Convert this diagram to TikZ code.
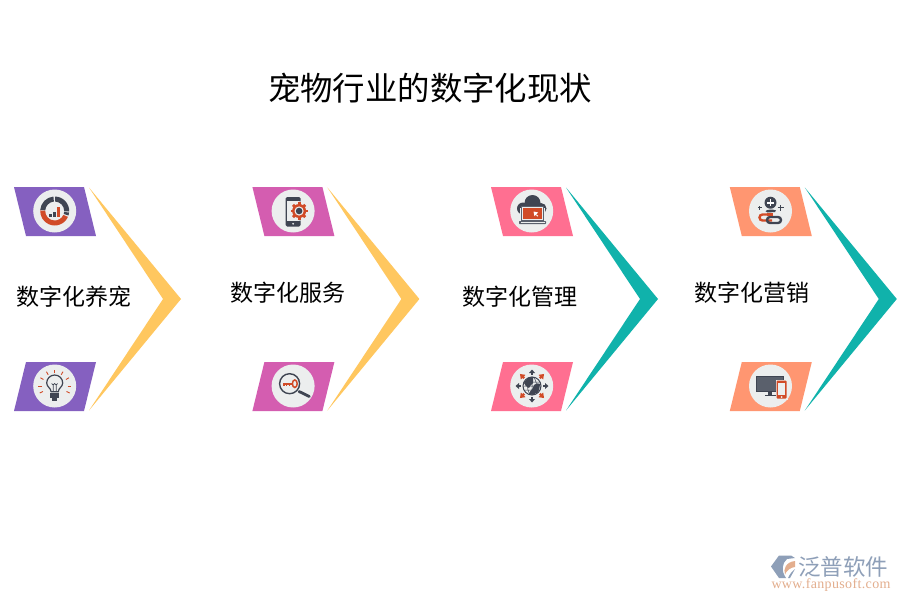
\documentclass[tikz,border=0pt]{standalone}
\usepackage{fontspec}
\setmainfont{Liberation Serif}
\newfontfamily\cjk{Noto Sans CJK SC}
\definecolor{cpurple}{HTML}{8560C0}
\definecolor{cmag}{HTML}{D45DB0}
\definecolor{cpink}{HTML}{FF6F91}
\definecolor{csalmon}{HTML}{FF9671}
\definecolor{cyel}{HTML}{FFC75F}
\definecolor{cteal}{HTML}{10B2AB}
\definecolor{ccirc}{HTML}{ECEEEE}
\definecolor{cdark}{HTML}{3F4552}
\definecolor{cscreen}{HTML}{5A606C}
\definecolor{cred}{HTML}{D14B27}
\definecolor{clogob}{HTML}{8E9FB8}
\definecolor{clogoo}{HTML}{E3AE8E}
\tikzset{
  lab/.style={font=\cjk\fontsize{23}{23}\selectfont,text=black,inner sep=0pt,anchor=center},
  ttl/.style={font=\cjk\fontsize{32.4}{33}\selectfont,text=black,inner sep=0pt,anchor=center},
  dk/.style={fill=cdark},
  rd/.style={fill=cred},
  dkl/.style={draw=cdark},
  rdl/.style={draw=cred},
  disc/.style={fill=ccirc}
}
% #1 x offset, #2 plate colour, #3 chevron colour
\newcommand{\grp}[3]{%
  \begin{scope}[shift={(#1,0)}]
    \fill[#2] (14,187) -- (84,187) -- (96,236) -- (26,236) -- cycle;
    \fill[#2] (26,362) -- (96,362) -- (84,411) -- (14,411) -- cycle;
    \fill[#3] (89,187.5) -- (181,299) -- (89,410.5) -- (163,299) -- cycle;
    \fill[disc] (54.7,211) circle (21.5);
    \fill[disc] (54.7,386) circle (21.5);
  \end{scope}}
\newcommand{\ring}[5]{\fill[#1] (#2:#4) arc (#2:#3:#4) -- (#3:#5) arc (#3:#2:#5) -- cycle;}
\begin{document}
\begin{tikzpicture}[x=1pt,y=-1pt]
\useasboundingbox (0,0) rectangle (900,600);
\fill[white] (0,0) rectangle (900,600);
\node[ttl] (title) at (430,88) {宠物行业的数字化现状};
\grp{0}{cpurple}{cyel}
\grp{238.4}{cmag}{cyel}
\grp{477}{cpink}{cteal}
\grp{715.8}{csalmon}{cteal}
\node[lab] (l1) at (74,297) {数字化养宠};
\node[lab] (l2) at (287.5,293) {数字化服务};
\node[lab] (l3) at (519.5,297) {数字化管理};
\node[lab] (l4) at (752,293) {数字化营销};
% icon 1: donut chart
\begin{scope}[shift={(54.7,211)},yscale=-1]
 \ring{dk}{176}{95}{14.5}{9.5}
 \ring{dk}{88}{-2}{14.5}{9.5}
 \ring{dk}{-6}{-18}{14.5}{9.5}
 \ring{rd}{-24}{-182}{14.5}{9.5}
 \fill[dk] (-5.5,-5.5) rectangle (-3.2,-3);
 \fill[dk] (-1.6,-5.5) rectangle (.8,-.5);
 \fill[rd] (2.6,-5.5) rectangle (5,4);
\end{scope}
% icon 2: bulb
\begin{scope}[shift={(54.7,386)},yscale=-1]
 \foreach \a in {90,120,60,150,30,180,0,205,-25}{
   \draw[rdl,line width=.9pt] (\a:13) -- (\a:16.5);}
 \draw[dkl,line width=1.2pt] (-3.6,-5.8) .. controls (-3.6,-2) and (-8,-1) .. (-8,3) arc (180:0:8) .. controls (8,-1) and (3.6,-2) .. (3.6,-5.8) -- cycle;
 \draw[dkl,line width=.7pt] (-1.5,-5) -- (-1.5,2) (1.5,-5) -- (1.5,2) (-3,2.5) -- (-1.5,1) -- (0,2.5) -- (1.5,1) -- (3,2.5);
 \fill[dk] (-4.5,-11.5) rectangle (4.5,-7);
 \fill[dk] (-2.6,-14.5) rectangle (2.6,-12);
\end{scope}
% icon 3: phone with gear
\begin{scope}[shift={(293.1,211)},yscale=-1]
 \fill[dk,rounded corners=1.5pt] (-7.5,-15.5) rectangle (7.5,14);
 \fill[ccirc] (-6,-10) rectangle (6,10.5);
 \fill[ccirc] (0,-12.8) circle (1);
 \begin{scope}[shift={(6,0)}]
  \fill[ccirc] (0,0) circle (9.8);
  \foreach \a in {0,45,...,315}{\fill[rd,rotate=\a] (6,-1.4) rectangle (8.6,1.4);}
  \fill[rd] (0,0) circle (7);
  \fill[ccirc] (0,0) circle (4.6);
  \fill[dk] (0,0) circle (3.3);
 \end{scope}
\end{scope}
% icon 4: magnifier with key
\begin{scope}[shift={(293.1,386)},yscale=-1]
 \draw[cdark,line width=2.8pt,line cap=round] (6,-5.5) -- (16.2,-10.5);
 \draw[dkl,line width=1.4pt] (-3.5,2.3) circle (10);
 \draw[rdl,line width=1.5pt] (1.7,2.3) ellipse (2.4 and 3.8);
 \fill[rd] (-10,1.5) rectangle (-.5,3.3);
 \fill[rd] (-10,0) rectangle (-8.5,2);
 \fill[rd] (-7.2,0) rectangle (-5.7,2);
 \fill[rd] (-4.4,0) rectangle (-2.9,2);
\end{scope}
% icon 5: cloud with laptop
\begin{scope}[shift={(532,211)},yscale=-1]
 \fill[dk] (0.5,8) circle (8);
 \fill[dk] (-9,2.5) circle (6);
 \fill[dk] (9,2.5) circle (5.5);
 \fill[dk] (-9,-3.5) rectangle (10,6);
 \fill[dk] (-7,2) rectangle (8,9);
 \fill[ccirc] (-12,-9) rectangle (13,-6);
 \fill[ccirc] (-12,-9) rectangle (-10.5,3);
 \fill[ccirc] (11.5,-9) rectangle (13,3);
 \fill[cscreen] (-11.2,-10) rectangle (12.2,4.8);
 \fill[ccirc] (-10.3,-9) rectangle (11.3,4);
 \fill[rd] (-9.2,-8.2) rectangle (10.2,3.2);
 \fill[cscreen,rounded corners=.6pt] (-13,-13) rectangle (14,-10);
 \fill[ccirc] (-11.5,-12) rectangle (12.5,-11.2);
 \fill[white] (1.5,-.5) -- (6.2,-1.5) -- (2.5,-5.2) -- cycle;
 \fill[white] (3.3,-2.8) -- (6.3,-4.8) -- (5.2,-5.6) -- cycle;
\end{scope}
% icon 6: globe with arrows
\begin{scope}[shift={(532,386)},yscale=-1]
 \fill[ccirc] (0,0) circle (9);
 \draw[cdark,line width=.5pt] (0,0) ellipse (4.5 and 9) (0,-9) -- (0,9) (-9,0) -- (9,0) (-8,4) -- (8,4) (-8,-4) -- (8,-4);
 \fill[dk] (-8,3) .. controls (-6,8) and (-2,9) .. (1,8.5) .. controls (2,6) and (0,5) .. (1,3) .. controls (-2,2) and (-1,-1) .. (-3,-2) .. controls (-6,-1) and (-7,1) .. (-8,3) -- cycle;
 \fill[dk] (2,1) .. controls (5,3) and (7,3) .. (8,2) .. controls (7,-1) and (8,-4) .. (6,-6.5) .. controls (3,-8) and (0,-9) .. (-3,-8.5) .. controls (-3,-5) and (1,-4) .. (2,1) -- cycle;
 \draw[cdark,line width=1pt] (0,0) circle (9);
 \foreach \a in {0,90,180,270}{
  \begin{scope}[rotate=\a]
   \fill[dk] (11,-1) rectangle (13,1);
   \fill[dk] (13,-3) -- (16.5,0) -- (13,3) -- cycle;
  \end{scope}}
 \foreach \a in {45,135,225,315}{
  \begin{scope}[rotate=\a]
   \fill[rd] (11,-1.2) rectangle (13,1.2);
   \fill[rd] (12.5,-3.3) -- (17,0) -- (12.5,3.3) -- cycle;
  \end{scope}}
\end{scope}
% icon 7: person-plus and chain
\begin{scope}[shift={(770.5,211)},yscale=-1]
 \fill[dk] (0,8.3) circle (6);
 \fill[white] (-3.4,7.4) rectangle (3.4,9.2);
 \fill[white] (-.9,4.9) rectangle (.9,11.7);
 \fill[dk] (-5,-.2) .. controls (-4,1.8) and (3,1.8) .. (5.5,0.6) -- (4.5,-1) -- (-3,-1.5) -- cycle;
 \draw[cdark,line width=.9pt] (-12.5,3.3) -- (-9,3.3) (-10.75,1.5) -- (-10.75,5.1);
 \draw[cdark,line width=1.5pt] (7,3.3) -- (13,3.3) (10,.3) -- (10,6.3);
 \draw[cred,line width=2.4pt,rounded corners=3pt] (1.5,-3.5) -- (-11,-3.5) -- (-11,-9.5) -- (1.5,-9.5);
 \draw[cdark,line width=2.4pt,rounded corners=3pt] (-3.5,-6) -- (10.5,-6) -- (10.5,-12) -- (-3.5,-12) -- cycle;
 \draw[cred,line width=2.4pt] (-3.5,-3.5) -- (2,-3.5);
\end{scope}
% icon 8: monitor and phone
\begin{scope}[shift={(770.5,386)},yscale=-1]
 \fill[cdark] (-14.5,-5.5) rectangle (13,10);
 \fill[cscreen] (-13.5,-4.5) rectangle (12,9);
 \fill[cdark] (-2.5,-5.5) rectangle (1.5,-9);
 \fill[cdark] (-6,-9) rectangle (5,-10);
 \fill[ccirc] (5,-13.5) rectangle (17,6.5);
 \fill[cred,rounded corners=1pt] (6,-12.7) rectangle (16,5.5);
 \fill[ccirc] (7.2,-9) rectangle (14.8,2.8);
 \fill[ccirc] (11,-11) circle (1);
\end{scope}
% logo
\fill[clogob] (779,555.5) -- (791,555.5) -- (795,558) -- (787,559) .. controls (782,563) and (781,571) .. (786,578) -- (779,578) -- (771,566.5) -- cycle;
\fill[clogoo] (795,561) -- (795,567) .. controls (791,567) and (786,571) .. (785,574.5) .. controls (783,569) and (786,562) .. (795,561) -- cycle;
\fill[clogob] (788,578) .. controls (790,574) and (792,571) .. (795,569) -- (790,578) -- cycle;
\node[font=\cjk\fontsize{22.5}{22.5}\selectfont,text=clogob,inner sep=0pt] (brand) at (843,566.5) {泛普软件};
\node[font=\fontsize{14}{14}\selectfont,text=clogoo,inner sep=0pt] (web) at (831,585) {\addfontfeatures{LetterSpace=2.5}www.fanpusoft.com};
\end{tikzpicture}
\end{document}
